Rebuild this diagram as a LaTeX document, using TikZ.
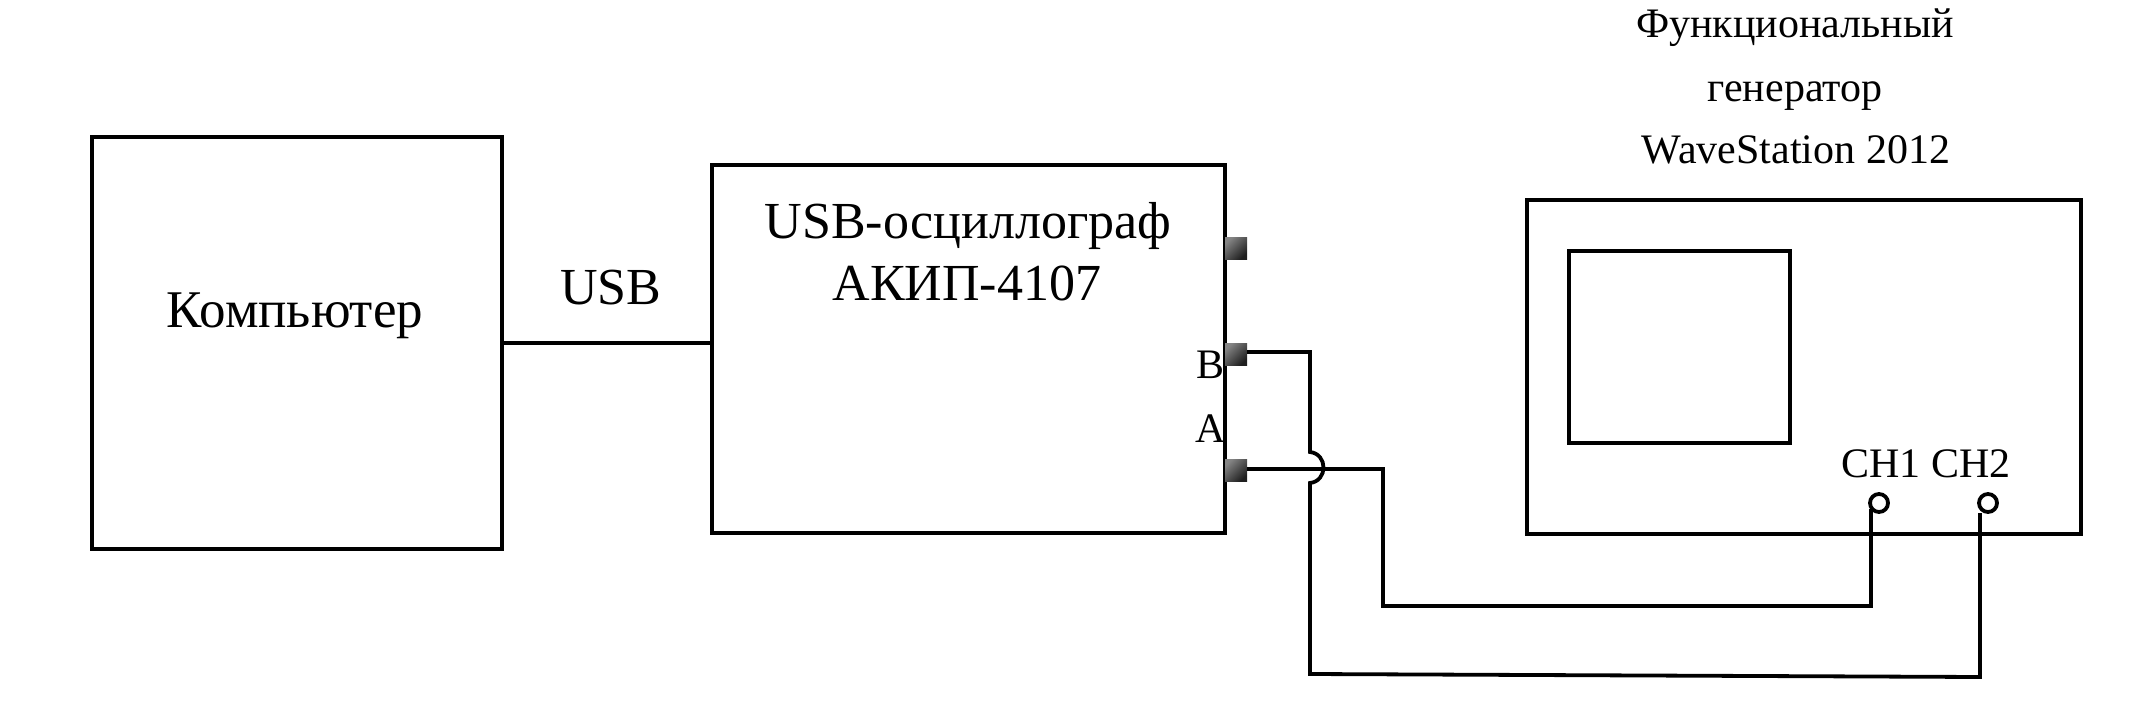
\documentclass[tikz,border=0pt]{standalone}
\usepackage{fontspec}
\setmainfont{Liberation Serif}
\usetikzlibrary{calc}
\tikzset{
  every node/.style={inner sep=0pt,outer sep=0pt},
  box/.style={draw=black,line width=3.8pt,fill=none,anchor=north west},
  wire/.style={draw=black,line width=3.8pt,line join=miter},
  port/.style={minimum size=22pt,anchor=center,top color=black!48,bottom color=black!88,shading angle=45},
  term/.style={circle,draw=black,line width=3.8pt,minimum size=18pt,anchor=center},
  big/.style={anchor=base,font=\fontsize{52}{52}\selectfont},
  mid/.style={anchor=base,font=\fontsize{42}{42}\selectfont},
}
\begin{document}
\begin{tikzpicture}[x=1pt,y=-1pt]
\useasboundingbox (0,0) rectangle (2142,706);
% blocks
\node[box,minimum width=410pt,minimum height=412pt] (pc) at (92,137) {};
\node[box,minimum width=513pt,minimum height=368pt] (osc) at (712,165) {};
\node[box,minimum width=554pt,minimum height=334pt] (gen) at (1527,200) {};
\node[box,minimum width=221pt,minimum height=192pt] (screen) at (1569,251) {};
% ports
\node[port] (pz) at (1236,248) {};
\node[port] (pb) at (1236,354) {};
\node[port] (pa) at (1236,470) {};
\node[term] (ch1) at (1879,503) {};
\node[term] (ch2) at (1988,503) {};
% texts
\node[big,font=\fontsize{53}{53}\selectfont] (tpc) at (295,327) {Компьютер};
\node[big] (tusb) at (611,304) {USB};
\node[big] (tosc) at (968,238) {USB-осциллограф};
\node[big] (takip) at (967,300) {АКИП-4107};
\node[mid] (tb) at (1210,378) {B};
\node[mid] (ta) at (1211,442) {A};
\node[mid] (tg1) at (1795,38) {Функциональный};
\node[mid] (tg2) at (1795,102) {генератор};
\node[mid] (tg3) at (1796,164) {WaveStation 2012};
\node[mid] (tc1) at (1881,477) {CH1};
\node[mid] (tc2) at (1971,477) {CH2};
% waypoints
\coordinate (b1) at (1310,352);
\coordinate (b2) at (1310,452);
\coordinate (b3) at (1310,483);
\coordinate (b4) at (1310,674);
\coordinate (b5) at (1980,677);
\coordinate (a1) at (1383,469);
\coordinate (a2) at (1383,606);
\coordinate (a3) at (1871,606);
% connectors
\draw[wire] (pc.east |- 0,343) -- (osc.west |- 0,343);
\draw[wire] (pb.east |- b1) -- (b1) -- (b2)
  .. controls (1328,454) and (1328,481) .. (b3) -- (b4) -- (b5)
  -- ([shift={(-8pt,-10pt)}]ch2.center);
\draw[wire] (pa.east |- a1) -- (a1) -- (a2) -- (a3)
  -- ([shift={(-8pt,-6pt)}]ch1.center);
\end{tikzpicture}
\end{document}
